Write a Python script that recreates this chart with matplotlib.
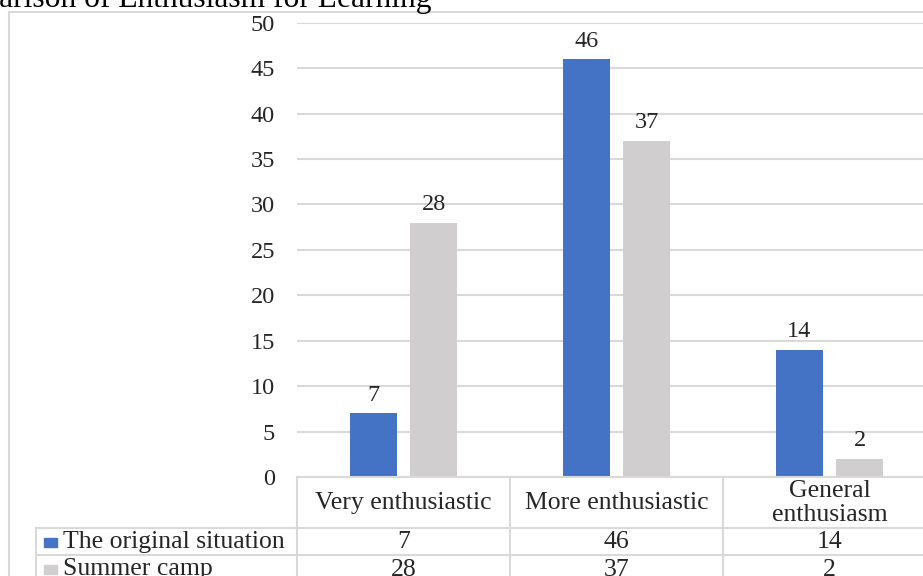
import matplotlib
matplotlib.use("Agg")
import matplotlib.pyplot as plt
import matplotlib.transforms as mtransforms
import numpy as np

# chart data
categories = ["Very enthusiastic", "More enthusiastic", "General\nenthusiasm"]
series_names = ["The original situation", "Summer camp"]
original = [7, 46, 14]
summer_camp = [28, 37, 2]
title = "Comparison of Enthusiasm for Learning"

colors = ["#4472C4", "#D0CECE"]
grid_col = "#D9D9D9"
text_col = "#262626"
W, H = 923, 576

plt.rcParams["font.family"] = ["Liberation Serif", "DejaVu Serif"]

fig = plt.figure(figsize=(W / 100, H / 100), dpi=100)


def fx(px):
    return px / W


def fy(py):
    # pixel measured from the top -> figure fraction from the bottom
    return 1 - py / H


# plot area: x from 297 px to 936 px (runs past the right edge), y 0..50
ax = fig.add_axes([fx(297), fy(477), fx(936 - 297), fy(22.7) - fy(477)])
x = np.arange(len(categories))
bw = 0.223
off = 0.141
series = [original, summer_camp]
for i, vals in enumerate(series):
    xs = x + (-off if i == 0 else off)
    ax.bar(xs, vals, width=bw, color=colors[i], zorder=3)
    for xv, v in zip(xs, vals):
        ax.annotate(str(v), (xv, v), xytext=(0, 9), textcoords="offset points",
                    ha="center", va="baseline", fontsize=17.5, color=text_col)

ax.set_xlim(-0.5, len(categories) - 0.5)
ax.set_ylim(0, 50)
ax.set_yticks(np.arange(0, 51, 5))
ax.set_xticks([])
ax.tick_params(axis="y", length=0, pad=15.8, labelsize=17.5, labelcolor=text_col)
ax.yaxis.grid(True, color=grid_col, linewidth=1.5, zorder=0)
for s in ["top", "right", "left"]:
    ax.spines[s].set_visible(False)
ax.spines["bottom"].set_color(grid_col)
ax.spines["bottom"].set_linewidth(1.5)
ax.spines["bottom"].set_zorder(4)

# data table under the plot: columns follow the category slots
tr = mtransforms.blended_transform_factory(ax.transData, fig.transFigure)
bounds = np.arange(len(categories) + 1) - 0.5
rows_y = [477, 527.5, 555, 582]
for b in bounds:
    fig.add_artist(plt.Line2D([b, b], [fy(477), fy(582)], transform=tr,
                              color=grid_col, lw=1.5, clip_on=False))
for yy in rows_y[1:]:
    fig.add_artist(plt.Line2D([fx(36), 1.05], [fy(yy), fy(yy)],
                              transform=fig.transFigure, color=grid_col, lw=1.5))
fig.add_artist(plt.Line2D([fx(36), fx(36)], [fy(527.5), fy(582)],
                          transform=fig.transFigure, color=grid_col, lw=1.5))

for xi, cat in zip(x, categories):
    fig.text(xi, fy(503), cat, transform=tr, ha="center", va="center",
             fontsize=18.5, color=text_col, linespacing=1.1)

for r, (name, vals) in enumerate(zip(series_names, series)):
    yc = fy((rows_y[r + 1] + rows_y[r + 2]) / 2 + 1)
    fig.add_artist(plt.Rectangle((fx(44), yc - 4.5 / H), 13 / W, 9 / H,
                                 transform=fig.transFigure, color=colors[r]))
    fig.text(fx(63), yc, name, ha="left", va="center", fontsize=18.5, color=text_col)
    for xi, v in zip(x, vals):
        fig.text(xi, yc, str(v), transform=tr, ha="center", va="center",
                 fontsize=18.5, color=text_col)

# outer chart frame (cropped at right and bottom)
fig.add_artist(plt.Line2D([fx(9), fx(9)], [fy(12), 0], transform=fig.transFigure,
                          color=grid_col, lw=1.5))
fig.add_artist(plt.Line2D([fx(9), 1], [fy(12), fy(12)], transform=fig.transFigure,
                          color=grid_col, lw=1.5))

# title, cut off at the top left in the source
fig.text(fx(432), fy(7), title, ha="right", va="baseline", fontsize=22.7,
         color="black")

fig.savefig("out.png", dpi=100)
